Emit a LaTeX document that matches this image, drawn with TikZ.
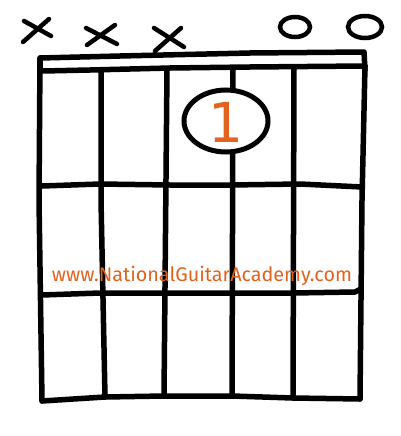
\documentclass[tikz,border=0pt]{standalone}
\usetikzlibrary{shapes.geometric}
\usepackage{fontspec}
\newfontfamily\webfont{Fira Sans}
\newfontfamily\digitfont{DejaVu Sans}
\definecolor{ngaorange}{HTML}{E2621E}
\begin{document}
\begin{tikzpicture}[x=1pt,y=-1pt,
  ink/.style={line width=5.5pt,line cap=round,line join=round,black},
  markstroke/.style={line width=4.5pt,line cap=round,line join=round,black}]
\useasboundingbox (0,0) rectangle (400,436);
\fill[white] (0,0) rectangle (400,436);
% nut
\draw[ink] (40,72) -- (40,58) -- (120,56) -- (250,53) -- (364,52) -- (365,70);
\draw[ink] (43,71) -- (90,70) -- (170,68) -- (250,67) -- (365,66);
% strings
\coordinate (s1t) at (40,58); \coordinate (s1b) at (42,401);
\coordinate (s2t) at (101,71); \coordinate (s2b) at (105,397);
\coordinate (s3t) at (167,70); \coordinate (s3b) at (164,396);
\coordinate (s4t) at (233,69); \coordinate (s4b) at (232,396);
\coordinate (s5t) at (294,68); \coordinate (s5b) at (293,398);
\coordinate (s6t) at (365,66); \coordinate (s6b) at (360,399);
\draw[ink] (s1t) -- (39,200) -- (s1b);
\draw[ink] (s2t) -- (101,200) -- (s2b);
\draw[ink] (s3t) -- (s3b);
\draw[ink] (s4t) -- (s4b);
\draw[ink] (s5t) -- (s5b);
\draw[ink] (s6t) -- (362,200) -- (s6b);
% frets
\draw[ink] (42,186) -- (100,184) -- (170,185) -- (230,185) -- (300,184) -- (362,187);
\draw[ink] (42,295) -- (100,293) -- (170,293) -- (232,293) -- (293,293) -- (355,292) -- (361,289);
\draw[ink] (s1b) -- (s2b) -- (s3b) -- (s4b) -- (s5b) -- (s6b);
% finger
\node[draw,line width=5pt,fill=white,ellipse,minimum width=84pt,minimum height=62pt,inner sep=0pt] (f1) at (226,121) {};
\node[text=ngaorange,font=\digitfont\fontsize{55}{55}\selectfont,inner sep=0pt] (f1t) at (226,122) {1};
% muted strings
\draw[markstroke] (24,21) -- (51,36);
\draw[markstroke] (49,19) -- (23,42);
\draw[markstroke] (86,28) -- (117,44);
\draw[markstroke] (115,25) -- (87,45);
\draw[markstroke] (154,28) -- (184,47);
\draw[markstroke] (181,28) -- (155,51);
% open strings
\node[draw,line width=4.5pt,ellipse,minimum width=30pt,minimum height=20pt,inner sep=0pt] (o5) at (295,27) {};
\node[draw,line width=4.5pt,ellipse,minimum width=34pt,minimum height=22pt,inner sep=0pt] (o6) at (365,27) {};
% watermark
\node[text=ngaorange,font=\webfont\fontsize{18}{20}\selectfont,inner sep=0pt] (web) at (202,276) {\resizebox{300pt}{!}{www.NationalGuitarAcademy.com}};
\end{tikzpicture}
\end{document}
